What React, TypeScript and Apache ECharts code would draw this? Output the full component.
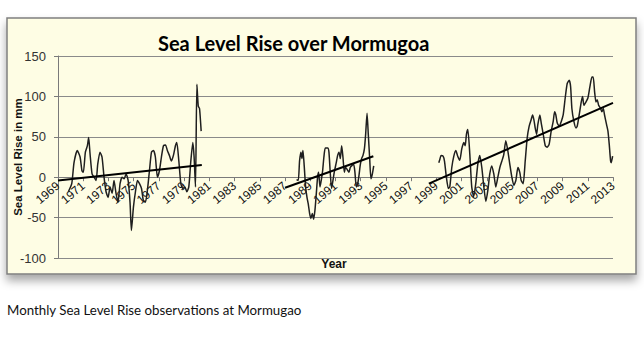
import React, { useEffect, useRef } from "react";
import * as echarts from "echarts";

const TITLE = "Sea Level Rise over Mormugoa";
const CAPTION = "Monthly Sea Level Rise observations at Mormugao";
const Y_NAME = "Sea Level Rise in mm";
const X_NAME = "Year";

// Segment 1 (1969-1980)
const years1 = [1969.82, 1970.09, 1970.27, 1970.53, 1970.75, 1970.9, 1971.01, 1971.17, 1971.33, 1971.43, 1971.54, 1971.7, 1971.86, 1972.02, 1972.15, 1972.33, 1972.49, 1972.65, 1972.81, 1972.97, 1973.13, 1973.29, 1973.44, 1973.6, 1973.76, 1973.92, 1974.08, 1974.24, 1974.4, 1974.56, 1974.71, 1974.82, 1974.98, 1975.14, 1975.3, 1975.46, 1975.62, 1975.77, 1975.93, 1976.09, 1976.25, 1976.41, 1976.57, 1976.72, 1976.88, 1977.04, 1977.2, 1977.36, 1977.52, 1977.67, 1977.83, 1977.99, 1978.15, 1978.31, 1978.42, 1978.58, 1978.74, 1978.9, 1979.06, 1979.21, 1979.37, 1979.53, 1979.69, 1979.79, 1979.9, 1980.01, 1980.12, 1980.22, 1980.35];
const values1 = [-18, -8, 18, 33, 25, 8, 6, 31, 39, 49, 29, 4, 0, -4, 16, 31, 25, 0, -18, -25, -12, -20, -4, -20, -31, -8, 0, -2, 4, -4, -31, -66, -37, -18, -4, -8, -14, -29, -31, -16, 8, 31, 33, 25, 0, 8, 25, 39, 40, 33, 27, 20, 27, 39, 43, 20, -8, -14, -12, -18, -12, 20, 43, 25, -12, 115, 88, 85, 57];

// Segment 2 (1988-1994)
const years2 = [1987.91, 1988.05, 1988.15, 1988.26, 1988.34, 1988.42, 1988.52, 1988.63, 1988.74, 1988.84, 1988.95, 1989.05, 1989.16, 1989.26, 1989.37, 1989.48, 1989.58, 1989.66, 1989.77, 1989.87, 1989.98, 1990.08, 1990.19, 1990.38, 1990.48, 1990.59, 1990.69, 1990.8, 1990.9, 1991.06, 1991.17, 1991.28, 1991.38, 1991.49, 1991.59, 1991.7, 1991.8, 1991.91, 1992.07, 1992.17, 1992.28, 1992.44, 1992.54, 1992.65, 1992.76, 1992.86, 1992.97, 1993.07, 1993.18, 1993.29, 1993.39, 1993.5, 1993.6, 1993.71, 1993.81, 1993.92, 1994.03];
const values2 = [-3, -4, 20, 31, 23, 33, 14, -12, -25, -33, -45, -51, -45, -52, -41, -20, 0, 6, -12, -4, 8, 25, 36, 36, 31, 4, -14, -4, 6, 18, 27, 31, 23, 39, 25, 6, 12, 10, 6, 12, 14, 16, 6, -12, -8, 2, 16, 23, 27, 35, 53, 79, 53, 23, -2, 4, 14];

// Segment 3 (1999-2013)
const years3 = [1999.19, 1999.27, 1999.37, 1999.53, 1999.64, 1999.79, 1999.95, 2000.06, 2000.22, 2000.38, 2000.54, 2000.69, 2000.85, 2001.01, 2001.17, 2001.28, 2001.38, 2001.49, 2001.65, 2001.8, 2001.96, 2002.12, 2002.28, 2002.44, 2002.6, 2002.76, 2002.92, 2003.08, 2003.23, 2003.39, 2003.55, 2003.71, 2003.87, 2004.03, 2004.19, 2004.34, 2004.5, 2004.66, 2004.82, 2004.98, 2005.14, 2005.3, 2005.46, 2005.61, 2005.72, 2005.88, 2006.04, 2006.2, 2006.35, 2006.51, 2006.62, 2006.73, 2006.83, 2006.94, 2007.04, 2007.2, 2007.31, 2007.47, 2007.63, 2007.78, 2007.94, 2008.1, 2008.26, 2008.37, 2008.47, 2008.58, 2008.74, 2008.9, 2009.05, 2009.21, 2009.37, 2009.53, 2009.64, 2009.74, 2009.9, 2010.06, 2010.16, 2010.32, 2010.48, 2010.59, 2010.69, 2010.85, 2011.01, 2011.17, 2011.33, 2011.43, 2011.54, 2011.65, 2011.75, 2011.86, 2012.02, 2012.12, 2012.23, 2012.33, 2012.49, 2012.6, 2012.7, 2012.81, 2012.86, 2012.97];
const values3 = [18, 22, 27, 26, 20, 0, -14, -12, 12, 26, 33, 26, 21, 35, 43, 39, 53, 59, 28, -12, -24, -8, 16, 27, 12, -12, -30, -16, 4, 14, 4, -12, 0, 12, 20, 28, 45, 33, 16, 0, -10, -4, 12, 6, -4, -8, 20, 49, 63, 71, 77, 71, 61, 53, 65, 77, 67, 53, 39, 37, 41, 57, 69, 81, 77, 67, 63, 69, 77, 98, 116, 120, 112, 85, 69, 61, 63, 77, 93, 100, 89, 93, 98, 112, 124, 124, 106, 93, 96, 89, 85, 81, 85, 77, 65, 57, 41, 20, 18, 26];

// Linear trend lines (start, end) per segment
const trendYears1 = [1969.0, 1980.4];
const trendValues1 = [-4, 15];
const trendYears2 = [1987.0, 1994.0];
const trendValues2 = [-13, 26];
const trendYears3 = [1998.4, 2013.0];
const trendValues3 = [-8, 92];

const X_MIN = 1969;
const X_MAX = 2013;
const X_STEP = 2;
const Y_MIN = -100;
const Y_MAX = 150;
const Y_STEP = 50;

const GRID_TOP = 56;
const GRID_BOTTOM = 79;
const CHART_H = 337;

const zip = (xs: number[], ys: number[]) => xs.map((x, i) => [x, ys[i]]);

export default function App() {
  const ref = useRef<HTMLDivElement>(null);

  useEffect(() => {
    if (!ref.current) return;
    const chart = echarts.init(ref.current, null, { renderer: "svg" });

    const gridH = CHART_H - GRID_TOP - GRID_BOTTOM;
    // place the x axis at value 0
    const zeroOffset = -gridH * ((0 - Y_MIN) / (Y_MAX - Y_MIN));

    const dataLine = (xs: number[], ys: number[]) => ({
      type: "line",
      data: zip(xs, ys),
      symbol: "none",
      smooth: 0.2,
      lineStyle: { color: "#1f1f1f", width: 1.5 },
      z: 3,
    });
    const trendLine = (xs: number[], ys: number[]) => ({
      type: "line",
      data: zip(xs, ys),
      symbol: "none",
      lineStyle: { color: "#000000", width: 2 },
      z: 4,
    });

    chart.setOption({
      animation: false,
      backgroundColor: "#ffffff",
      title: {
        text: TITLE,
        left: 158,
        top: 33,
        padding: 0,
        textStyle: { fontFamily: "Lato", fontWeight: "bold", fontSize: 20, color: "#000" },
      },
      grid: {
        left: 58,
        right: 31,
        top: GRID_TOP,
        bottom: GRID_BOTTOM,
        containLabel: false,
      },
      xAxis: {
        type: "value",
        min: X_MIN,
        max: X_MAX,
        interval: X_STEP,
        position: "bottom",
        offset: zeroOffset,
        axisLine: { show: true, onZero: false, lineStyle: { color: "#7a7a7a", width: 1 } },
        axisTick: { show: true, length: 4, lineStyle: { color: "#7a7a7a" } },
        axisLabel: {
          rotate: 40,
          margin: 7,
          fontFamily: "Liberation Sans",
          fontSize: 12,
          color: "#111",
          showMinLabel: true,
          showMaxLabel: true,
          formatter: (v: number) => String(v),
        },
        splitLine: { show: false },
      },
      yAxis: {
        type: "value",
        min: Y_MIN,
        max: Y_MAX,
        interval: Y_STEP,
        axisLine: { show: true, lineStyle: { color: "#7a7a7a", width: 1 } },
        axisTick: { show: true, length: 4, lineStyle: { color: "#7a7a7a" } },
        axisLabel: { margin: 12, fontFamily: "Liberation Sans", fontSize: 13, color: "#333" },
        splitLine: { show: true, lineStyle: { color: "#8a8a8a", width: 1 } },
      },
      graphic: [
        {
          type: "rect",
          z: -10,
          shape: { x: 7, y: 18, width: 629, height: 256 },
          style: {
            fill: "#fefde4",
            stroke: "#7f7f7f",
            lineWidth: 1.5,
            shadowBlur: 10,
            shadowOffsetY: 6,
            shadowColor: "rgba(0,0,0,0.35)",
          },
        },
        {
          type: "text",
          x: 18,
          y: 157,
          rotation: Math.PI / 2,
          style: {
            text: Y_NAME,
            font: "bold 11.5px 'Liberation Sans'",
            fill: "#111",
            textAlign: "center",
            textVerticalAlign: "middle",
          },
        },
        {
          type: "text",
          x: 334,
          y: 264,
          style: {
            text: X_NAME,
            font: "bold 12px 'Liberation Sans'",
            fill: "#111",
            textAlign: "center",
            textVerticalAlign: "middle",
          },
        },
        {
          type: "text",
          x: 7,
          y: 310,
          style: {
            text: CAPTION,
            font: "13.3px Lato",
            fill: "#111",
            textAlign: "left",
            textVerticalAlign: "middle",
          },
        },
      ],
      series: [
        dataLine(years1, values1),
        dataLine(years2, values2),
        dataLine(years3, values3),
        trendLine(trendYears1, trendValues1),
        trendLine(trendYears2, trendValues2),
        trendLine(trendYears3, trendValues3),
      ],
    });

    return () => chart.dispose();
  }, []);

  return (
    <div
      ref={ref}
      style={{ position: "fixed", left: 0, top: 0, width: 644, height: 337, background: "#fff" }}
    />
  );
}
